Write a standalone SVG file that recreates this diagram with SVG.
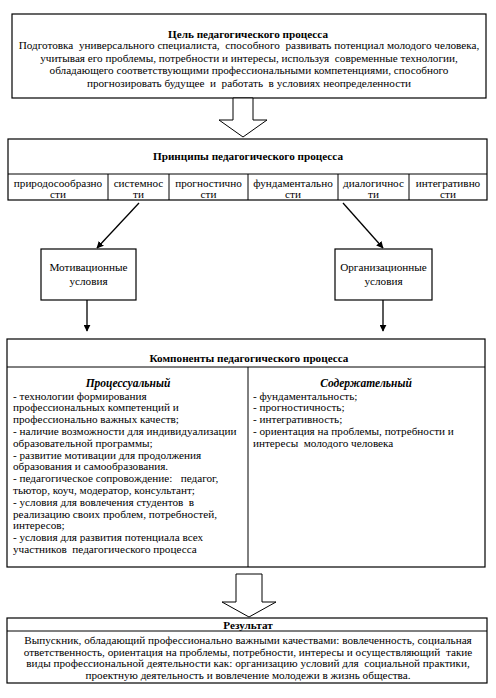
<svg xmlns="http://www.w3.org/2000/svg" width="496" height="698" viewBox="0 0 496 698" xml:space="preserve">
<style>
text{font-family:"Liberation Serif","Times New Roman",serif;font-size:11.2px;fill:#000;white-space:pre}
.b{font-weight:bold}
.bi{font-weight:bold;font-style:italic;font-size:11.5px}
.c{text-anchor:middle}
.box{fill:#fff;stroke:#000;stroke-width:1.2}
.ln{stroke:#000;stroke-width:1;fill:none}
.con{stroke:#000;stroke-width:1.3;fill:none}
.blk{fill:#fff;stroke:#000;stroke-width:1}
</style>
<defs>
<marker id="ah" viewBox="0 0 10 10" refX="9" refY="5" markerWidth="7" markerHeight="7" markerUnits="userSpaceOnUse" orient="auto">
<path d="M0,0 L10,5 L0,10 z" fill="#000"/>
</marker>
</defs>
<rect width="496" height="698" fill="#fff"/>
<g id="goal">
<rect class="box" x="12" y="14" width="474" height="84" stroke-width="1.5"/>
<text class="b c" x="248" y="37.5">Цель педагогического процесса</text>
<text class="c" x="249" y="49">Подготовка  универсального специалиста,  способного  развивать потенциал молодого человека,</text>
<text class="c" x="249" y="61.5">учитывая его проблемы, потребности и интересы, используя  современные технологии,</text>
<text class="c" x="249" y="74">обладающего соответствующими профессиональными компетенциями, способного</text>
<text class="c" x="249" y="86.5">прогнозировать будущее  и  работать  в условиях неопределенности</text>
</g>
<g id="principles">
<rect class="box" x="8" y="139" width="479" height="61"/>
<line class="ln" x1="8" y1="174" x2="487" y2="174"/>
<line class="ln" x1="108" y1="174" x2="108" y2="200"/>
<line class="ln" x1="169" y1="174" x2="169" y2="200"/>
<line class="ln" x1="248" y1="174" x2="248" y2="200"/>
<line class="ln" x1="338" y1="174" x2="338" y2="200"/>
<line class="ln" x1="409" y1="174" x2="409" y2="200"/>
<text class="b c" x="248" y="160">Принципы педагогического процесса</text>
<text class="c" x="58" y="186.5">природосообразно</text>
<text class="c" x="58" y="197.5">сти</text>
<text class="c" x="138.5" y="186.5">системнос</text>
<text class="c" x="138.5" y="197.5">ти</text>
<text class="c" x="208.5" y="186.5">прогностично</text>
<text class="c" x="208.5" y="197.5">сти</text>
<text class="c" x="293" y="186.5">фундаментально</text>
<text class="c" x="293" y="197.5">сти</text>
<text class="c" x="373.5" y="186.5">диалогичнос</text>
<text class="c" x="373.5" y="197.5">ти</text>
<text class="c" x="448" y="186.5">интегративно</text>
<text class="c" x="448" y="197.5">сти</text>
</g>
<g id="motivation">
<rect class="box" x="41" y="249" width="95" height="51"/>
<text class="c" x="88.5" y="271">Мотивационные</text>
<text class="c" x="88.5" y="285">условия</text>
</g>
<g id="organization">
<rect class="box" x="335" y="249" width="97" height="51"/>
<text class="c" x="383.5" y="271">Организационные</text>
<text class="c" x="383.5" y="285">условия</text>
</g>
<g id="components">
<rect class="box" x="7" y="339" width="478" height="228"/>
<line class="ln" x1="7" y1="367" x2="485" y2="367"/>
<line class="ln" x1="248" y1="367" x2="248" y2="567"/>
<text class="b c" x="249" y="362">Компоненты педагогического процесса</text>
<text class="bi c" x="128" y="386.5">Процессуальный</text>
<text x="13" y="399.5">- технологии формирования</text>
<text x="13" y="411.3">профессиональных компетенций и</text>
<text x="13" y="423.1">профессионально важных качеств;</text>
<text x="13" y="434.9">- наличие возможности для индивидуализации</text>
<text x="13" y="446.7">образовательной программы;</text>
<text x="13" y="458.5">- развитие мотивации для продолжения</text>
<text x="13" y="470.3">образования и самообразования.</text>
<text x="13" y="482.1">- педагогическое сопровождение:   педагог,</text>
<text x="13" y="493.9">тьютор, коуч, модератор, консультант;</text>
<text x="13" y="505.7">- условия для вовлечения студентов  в</text>
<text x="13" y="517.5">реализацию своих проблем, потребностей,</text>
<text x="13" y="529.3">интересов;</text>
<text x="13" y="541.1">- условия для развития потенциала всех</text>
<text x="13" y="552.9">участников  педагогического процесса</text>
<text class="bi c" x="366" y="386.5">Содержательный</text>
<text x="253" y="399.5">- фундаментальность;</text>
<text x="253" y="411.3">- прогностичность;</text>
<text x="253" y="423.1">- интегративность;</text>
<text x="253" y="434.9">- ориентация на проблемы, потребности и</text>
<text x="253" y="446.7">интересы  молодого человека</text>
</g>
<g id="result">
<rect class="box" x="7" y="618" width="480" height="65"/>
<line class="ln" x1="7" y1="631" x2="487" y2="631"/>
<text class="b c" x="248" y="629">Результат</text>
<text class="c" x="248" y="644">Выпускник, обладающий профессионально важными качествами: вовлеченность, социальная</text>
<text class="c" x="248" y="655.5">ответственность, ориентация на проблемы, потребности, интересы и осуществляющий  такие</text>
<text class="c" x="248" y="667">виды профессиональной деятельности как: организацию условий для  социальной практики,</text>
<text class="c" x="248" y="678.5">проектную деятельность и вовлечение молодежи в жизнь общества.</text>
</g>
<g id="connectors">
<path class="blk" d="M233,98 L253,98 L253,120 L267,120 L243,137 L219,120 L233,120 Z"/>
<path class="blk" d="M236,574 L262,574 L262,602 L276,602 L249,617 L222,602 L236,602 Z"/>
<line class="con" x1="139" y1="203" x2="97" y2="248" marker-end="url(#ah)"/>
<line class="con" x1="343" y1="203" x2="383" y2="248" marker-end="url(#ah)"/>
<line class="con" x1="87" y1="300" x2="87" y2="331" marker-end="url(#ah)"/>
<line class="con" x1="383" y1="300" x2="383" y2="331" marker-end="url(#ah)"/>
</g>
</svg>
